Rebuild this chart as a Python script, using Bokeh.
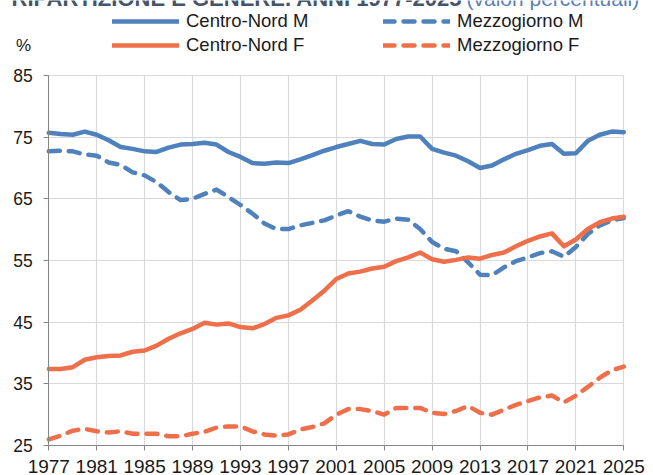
from bokeh.plotting import figure
from bokeh.models import (Range1d, FixedTicker, Legend, LegendItem, Label)
from bokeh.embed import file_html
from bokeh.resources import INLINE

years = list(range(1977, 2026))
centro_nord_m = [75.7, 75.5, 75.4, 75.9, 75.4, 74.5, 73.4, 73.1, 72.7, 72.6, 73.3, 73.8, 73.9, 74.1, 73.8, 72.6, 71.8,
                 70.8, 70.7, 70.9, 70.8, 71.4, 72.1, 72.8, 73.4, 73.9, 74.4, 73.9, 73.8, 74.7, 75.1, 75.1,
                 73.1, 72.5, 72.0, 71.1, 70.0, 70.4, 71.4, 72.3, 72.9, 73.6, 73.9, 72.3, 72.4, 74.4, 75.4, 75.9, 75.8]
mezzogiorno_m = [72.7, 72.8, 72.7, 72.2, 72.0, 70.9, 70.5, 69.3, 68.8, 67.7, 66.1, 64.8, 65.0, 65.8, 66.5, 65.3, 64.0,
                 62.6, 61.0, 60.1, 60.1, 60.7, 61.1, 61.5, 62.3, 63.0, 62.1, 61.5, 61.3, 61.8, 61.6, 60.1,
                 58.0, 56.9, 56.5, 54.7, 52.7, 52.6, 53.9, 54.9, 55.5, 56.2, 56.5, 55.6, 57.2, 59.3, 60.7, 61.5, 61.9]
centro_nord_f = [37.4, 37.4, 37.7, 38.9, 39.3, 39.5, 39.6, 40.2, 40.4, 41.2, 42.3, 43.2, 43.9, 44.9, 44.6, 44.8, 44.2,
                 44.0, 44.7, 45.7, 46.1, 47.0, 48.5, 50.1, 52.0, 52.9, 53.2, 53.7, 54.0, 54.9, 55.5, 56.3,
                 55.2, 54.8, 55.1, 55.5, 55.3, 55.9, 56.3, 57.3, 58.2, 58.9, 59.4, 57.3, 58.4, 60.1, 61.2, 61.8, 62.1]
mezzogiorno_f = [26.0, 26.6, 27.4, 27.7, 27.3, 27.1, 27.3, 26.9, 26.9, 26.9, 26.5, 26.5, 26.9, 27.2, 27.9, 28.1, 28.1,
                 27.3, 26.8, 26.6, 26.8, 27.6, 28.0, 28.6, 30.0, 30.9, 30.9, 30.6, 30.0, 31.1, 31.1, 31.1,
                 30.3, 30.1, 30.6, 31.4, 30.3, 30.0, 30.8, 31.6, 32.2, 32.8, 33.1, 32.0, 33.1, 34.5, 36.0, 37.2, 37.8]
x_ticks = [1977, 1981, 1985, 1989, 1993, 1997, 2001, 2005, 2009, 2013, 2017, 2021, 2025]
y_ticks = [25, 35, 45, 55, 65, 75, 85]
series_names = ["Centro-Nord M", "Mezzogiorno M", "Centro-Nord F", "Mezzogiorno F"]
title_main = "RIPARTIZIONE E GENERE. ANNI 1977-2025"
title_sub = "(valori percentuali)"

BLUE = "#4f81bd"
ORANGE = "#ef6f4b"
FONT = "Liberation Sans"
W, H = 653, 475
# plot area in canvas pixels: x 48.3..623.3, y 75..445
px_per_year = 575.0 / (x_ticks[-1] - x_ticks[0])
px_per_unit = 370.0 / (y_ticks[-1] - y_ticks[0])
x0 = x_ticks[0] - 48.3 / px_per_year
x1 = x_ticks[-1] + (W - 623.3) / px_per_year
y1 = y_ticks[-1] + 75.0 / px_per_unit
y0 = y_ticks[0] - (H - 445.0) / px_per_unit

p = figure(width=W, height=H, output_backend="svg", toolbar_location=None,
           x_range=Range1d(x0, x1), y_range=Range1d(y0, y1),
           min_border=0, min_border_left=0, min_border_right=0, min_border_top=0, min_border_bottom=0)
p.outline_line_color = None

for ax in (p.xaxis[0], p.yaxis[0]):
    ax.axis_line_color = "#868686"
    ax.major_tick_line_color = "#868686"
    ax.major_tick_out = 5
    ax.major_tick_in = 0
    ax.minor_tick_line_color = None
    ax.major_label_text_font = FONT
    ax.major_label_text_color = "#1a1a1a"

p.xaxis.fixed_location = y_ticks[0]
p.yaxis.fixed_location = x_ticks[0]
p.xaxis.bounds = (x_ticks[0], x_ticks[-1])
p.yaxis.bounds = (y_ticks[0], y_ticks[-1])
p.xaxis.ticker = FixedTicker(ticks=x_ticks)
p.yaxis.ticker = FixedTicker(ticks=y_ticks)
p.xaxis.major_label_text_font_size = "19px"
p.yaxis.major_label_text_font_size = "17.5px"
p.xaxis.major_label_standoff = 9
p.yaxis.major_label_standoff = 11

p.xgrid.ticker = FixedTicker(ticks=x_ticks)
p.ygrid.ticker = FixedTicker(ticks=y_ticks)
p.xgrid.bounds = (x_ticks[0], x_ticks[-1])
p.ygrid.bounds = (y_ticks[0], y_ticks[-1])
if hasattr(p.xgrid[0], "cross_bounds"):
    p.xgrid.cross_bounds = (y_ticks[0], y_ticks[-1])
    p.ygrid.cross_bounds = (x_ticks[0], x_ticks[-1])
p.grid.grid_line_color = "#d9d9d9"
p.grid.grid_line_width = 1.2

common = dict(line_width=4.5, line_cap="round", line_join="round")
r1 = p.line(years, centro_nord_m, line_color=BLUE, **common)
r2 = p.line(years, mezzogiorno_m, line_color=BLUE, line_dash="11 9", **common)
r3 = p.line(years, centro_nord_f, line_color=ORANGE, **common)
r4 = p.line(years, mezzogiorno_f, line_color=ORANGE, line_dash="11 9", **common)

def make_legend(items, x):
    return Legend(items=items, location=(x, H - 57), orientation="vertical",
                  glyph_width=67, glyph_height=24, label_height=24, spacing=0, padding=0, margin=0,
                  label_standoff=7, border_line_color=None, background_fill_alpha=0,
                  label_text_font=FONT, label_text_font_size="18.5px", label_text_color="#1a1a1a",
                  label_text_baseline="middle")

p.add_layout(make_legend([LegendItem(label=series_names[0], renderers=[r1]),
                          LegendItem(label=series_names[2], renderers=[r3])], 112))
p.add_layout(make_legend([LegendItem(label=series_names[1], renderers=[r2]),
                          LegendItem(label=series_names[3], renderers=[r4])], 383))

p.add_layout(Label(x=23, y=H - 45, x_units="screen", y_units="screen", text="%",
                   text_font=FONT, text_font_size="17px", text_color="#1a1a1a",
                   text_align="center", text_baseline="middle"))
p.add_layout(Label(x=11, y=H + 2.5, x_units="screen", y_units="screen", text=title_main,
                   text_font=FONT, text_font_size="22px", text_font_style="bold", text_color="#44546a",
                   text_align="left", text_baseline="alphabetic"))
p.add_layout(Label(x=466, y=H + 2.5, x_units="screen", y_units="screen", text=title_sub,
                   text_font=FONT, text_font_size="21px", text_color="#5b7fb5",
                   text_align="left", text_baseline="alphabetic"))

open("out.html", "w").write(file_html(p, INLINE))
